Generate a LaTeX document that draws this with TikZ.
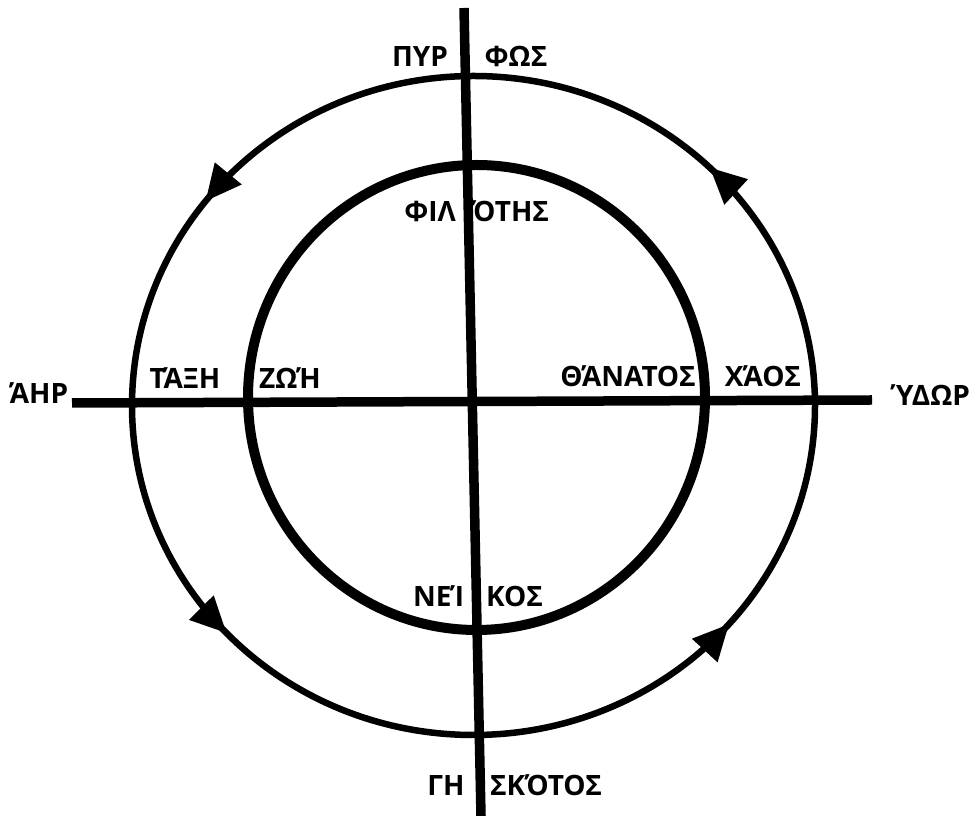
\documentclass[tikz,border=0pt]{standalone}
\usepackage{fontspec}
\setmainfont{Open Sans}
\usetikzlibrary{arrows.meta,decorations.markings}
\tikzset{
  lbl/.style={font=\fontsize{28}{30}\selectfont\bfseries, inner sep=0pt, anchor=base},
  axisline/.style={line width=9.5pt, black},
  outerring/.style={line width=6.5pt, black},
  innerring/.style={line width=10pt, black},
  ringarrows/.style={postaction={decorate}, decoration={markings,
    mark=at position 0.127 with {\arrow{Triangle[length=36pt,width=33pt]}},
    mark=at position 0.395 with {\arrow{Triangle[length=36pt,width=33pt]}},
    mark=at position 0.620 with {\arrow{Triangle[length=36pt,width=33pt]}},
    mark=at position 0.886 with {\arrow{Triangle[length=36pt,width=33pt]}}}}
}
\begin{document}
\begin{tikzpicture}[x=1pt,y=1pt]
\useasboundingbox (0,0) rectangle (977,816);
% rings
\draw[outerring, ringarrows] (473.5,410.5) ellipse [x radius=341.5, y radius=329.5];
\draw[innerring] (476.5,418.5) ellipse [x radius=228.5, y radius=232.5];
% axes
\coordinate (vtop) at (464,808);
\coordinate (vbot) at (481,0);
\coordinate (hleft) at (72,413);
\coordinate (hright) at (872,416);
\draw[axisline] (vtop) -- (vbot);
\draw[axisline] (hleft) -- (hright);
% labels
\node[lbl] (pyr) at (420,749.5) {ΠΥΡ};
\node[lbl] (fos) at (516,749.5) {ΦΩΣ};
\node[lbl, anchor=base east] (fil) at (456,594.5) {ΦΙΛ};
\node[lbl, anchor=base west] (otis) at (472,594.5) {ΌΤΗΣ};
\node[lbl, anchor=base east] (nei) at (466,209.5) {ΝΕΊ};
\node[lbl, anchor=base west] (kos) at (486,209.5) {ΚΟΣ};
\node[lbl] (taxi) at (185,427.5) {ΤΆΞΗ};
\node[lbl] (zoi) at (290,427.5) {ΖΩΉ};
\node[lbl] (air) at (39,412.5) {ΆΗΡ};
\node[lbl] (thanatos) at (628,429.5) {ΘΆΝΑΤΟΣ};
\node[lbl] (chaos) at (763,429.5) {ΧΆΟΣ};
\node[lbl] (ydor) at (931,410.5) {ΎΔΩΡ};
\node[lbl] (gi) at (446,20.5) {ΓΗ};
\node[lbl] (skotos) at (546,20.5) {ΣΚΌΤΟΣ};
\end{tikzpicture}
\end{document}
